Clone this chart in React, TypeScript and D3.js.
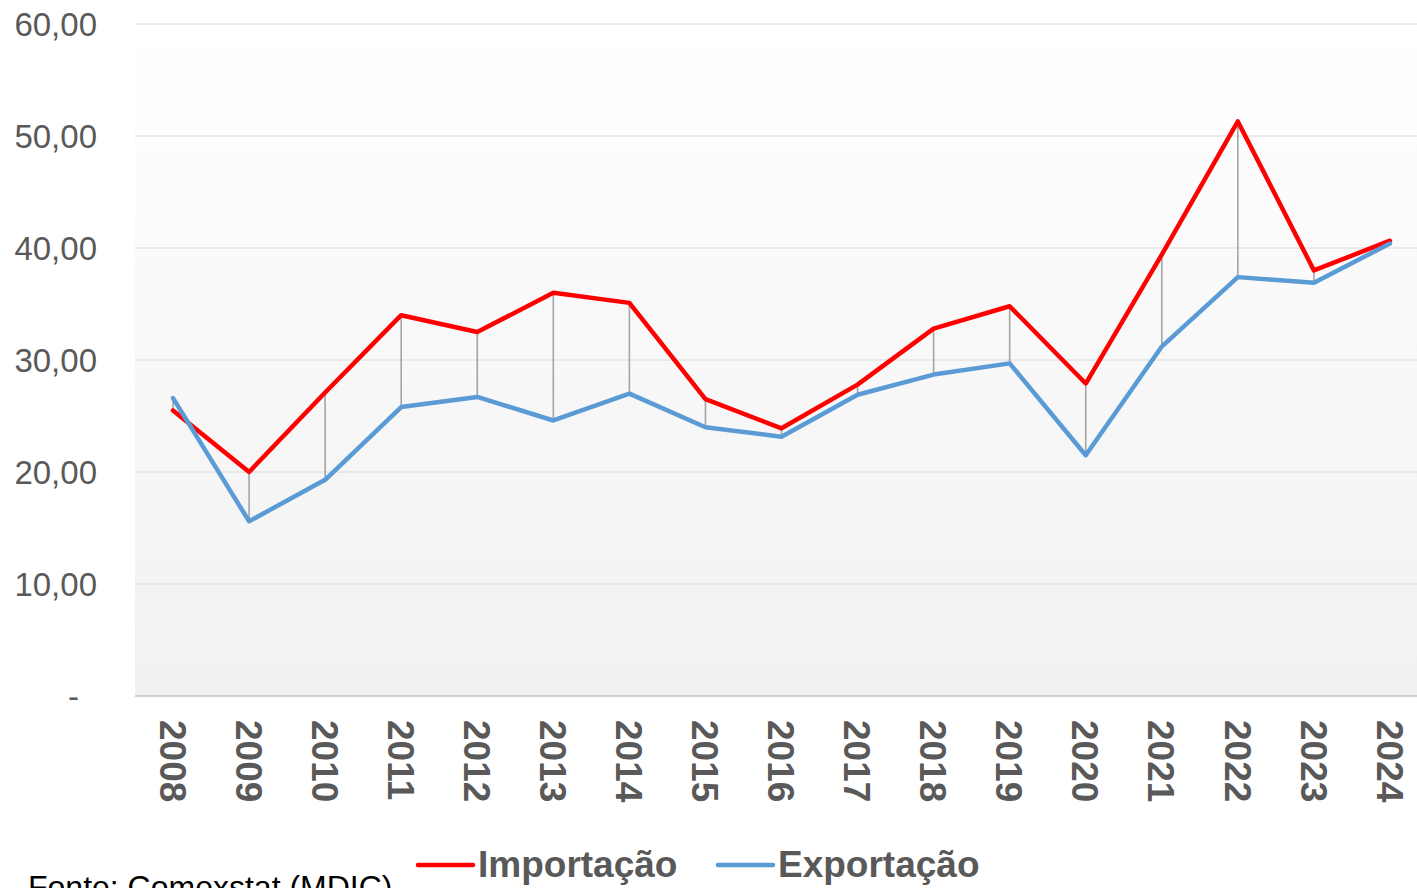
import React from "react";
import * as d3 from "d3";

const years = ["2008","2009","2010","2011","2012","2013","2014","2015","2016","2017","2018","2019","2020","2021","2022","2023","2024"];
const importacao = [25.5, 20.0, 27.1, 34.0, 32.5, 36.0, 35.1, 26.5, 23.9, 27.8, 32.8, 34.8, 27.9, 39.4, 51.3, 38.0, 40.65];
const exportacao = [26.6, 15.6, 19.3, 25.8, 26.7, 24.6, 27.0, 24.0, 23.15, 26.9, 28.7, 29.7, 21.5, 31.2, 37.4, 36.9, 40.4];
const yTicks = [0, 10, 20, 30, 40, 50, 60];
const tickLabels = ["-", "10,00", "20,00", "30,00", "40,00", "50,00", "60,00"];
const seriesNames = ["Importação", "Exportação"];
const seriesColors = ["#ff0000", "#5b9bd5"];
const source = "Fonte: Comexstat (MDIC)";

const W = 1417;
const H = 888;
const plotLeft = 135;
const plotRight = 1428;
const plotTop = 24;
const plotBottom = 696;

export default function App() {
  const x = d3.scaleBand<string>().domain(years).range([plotLeft, plotRight]).padding(0);
  const y = d3.scaleLinear().domain([0, 60]).range([plotBottom, plotTop]);
  const cx = (yr: string) => (x(yr) as number) + x.bandwidth() / 2;
  const line = d3
    .line<number>()
    .x((_, i) => cx(years[i]))
    .y((d) => y(d));
  const series = [importacao, exportacao];
  const font = "'Liberation Sans', Arial, sans-serif";

  return (
    <svg width={W} height={H} style={{ position: "fixed", left: 0, top: 0 }} fontFamily={font}>
      <defs>
        <linearGradient id="bg" x1="0" y1="0" x2="0" y2="1">
          <stop offset="0" stopColor="#ffffff" />
          <stop offset="1" stopColor="#f1f1f1" />
        </linearGradient>
      </defs>
      <rect x={0} y={0} width={W} height={H} fill="#ffffff" />
      <rect x={plotLeft} y={plotTop} width={W - plotLeft} height={plotBottom - plotTop} fill="url(#bg)" />
      {yTicks.map((t) =>
        t === 0 ? null : (
          <line key={"g" + t} x1={plotLeft} x2={W} y1={y(t)} y2={y(t)} stroke="#d9d9d9" strokeWidth={1.2} />
        )
      )}
      <line x1={plotLeft} x2={W} y1={y(0)} y2={y(0)} stroke="#d0d0d0" strokeWidth={2} />
      {yTicks.map((t, i) => (
        <text
          key={"t" + t}
          x={t === 0 ? 79 : 97}
          y={y(t)}
          dy="0.36em"
          textAnchor="end"
          fontSize={33}
          fill="#595959"
        >
          {tickLabels[i]}
        </text>
      ))}
      {years.map((yr, i) => {
        const hi = Math.max(importacao[i], exportacao[i]);
        const lo = Math.min(importacao[i], exportacao[i]);
        return (
          <line key={"hl" + yr} x1={cx(yr)} x2={cx(yr)} y1={y(hi)} y2={y(lo)} stroke="#a5a5a5" strokeWidth={1.6} />
        );
      })}
      {series.map((s, k) => (
        <path
          key={"s" + k}
          d={line(s) || ""}
          fill="none"
          stroke={seriesColors[k]}
          strokeWidth={4.5}
          strokeLinejoin="round"
          strokeLinecap="round"
        />
      ))}
      {years.map((yr) => (
        <text
          key={"x" + yr}
          transform={`translate(${cx(yr)},720) rotate(90)`}
          dy="0.36em"
          fontSize={37}
          fontWeight="bold"
          fill="#595959"
        >
          {yr}
        </text>
      ))}
      {seriesNames.map((n, k) => {
        const lx = k === 0 ? 418 : 718;
        return (
          <g key={"l" + k}>
            <line x1={lx} x2={lx + 55} y1={865} y2={865} stroke={seriesColors[k]} strokeWidth={4.5} strokeLinecap="round" />
            <text x={lx + 60} y={877} fontSize={37} fontWeight="bold" fill="#595959">
              {n}
            </text>
          </g>
        );
      })}
      <text x={28} y={898} fontSize={32} fill="#000000">
        {source}
      </text>
    </svg>
  );
}
